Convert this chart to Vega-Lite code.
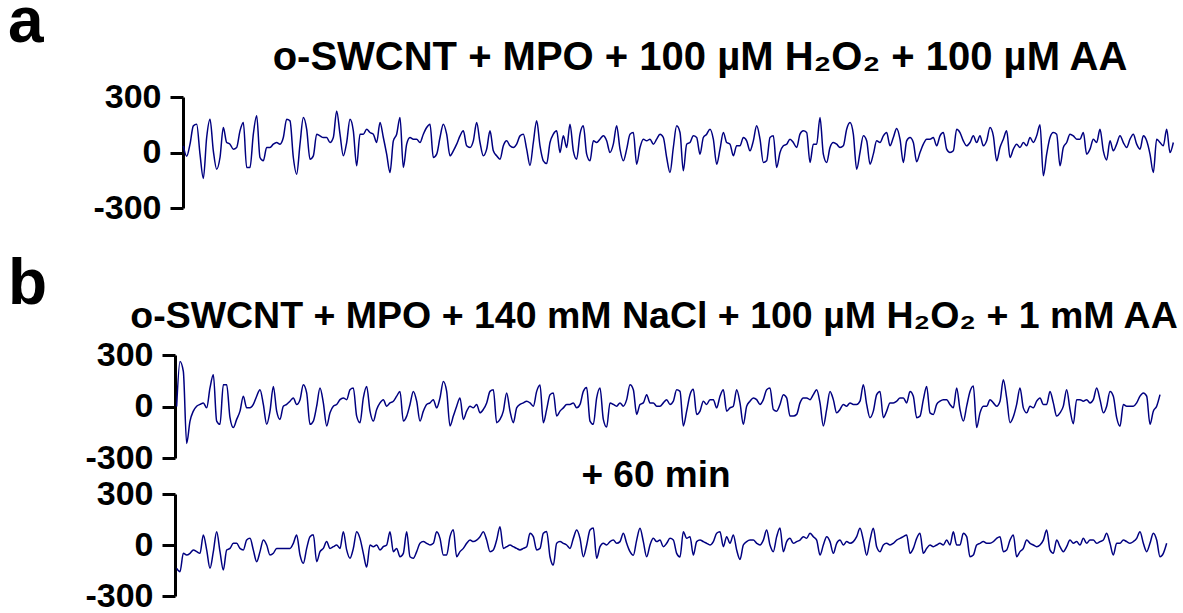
{
"$schema": "https://vega.github.io/schema/vega-lite/v6.json",
"padding": {"left": 8, "top": -9, "right": 0, "bottom": 0},
"bounds": "flush",
"spacing": 147,
"config": {
  "font": "Liberation Sans",
  "view": {"stroke": null},
  "axis": {"domainColor": "black", "domainWidth": 3, "tickColor": "black", "tickWidth": 3, "tickSize": 13, "labelFont": "Liberation Sans", "labelFontSize": 34, "labelFontWeight": "bold", "labelColor": "black", "labelPadding": 9, "grid": false, "labelFlush": false, "labelOverlap": false},
  "title": {"font": "Liberation Sans", "fontWeight": "bold", "color": "black"}
},
"datasets": {
"a": [
{"t":0,"v":36},{"t":1,"v":-20},{"t":2,"v":45},{"t":3,"v":144},{"t":4,"v":153},{"t":5,"v":-9},{"t":6,"v":-140},{"t":7,"v":81},{"t":8,"v":180},{"t":9,"v":9},
{"t":10,"v":-90},{"t":11,"v":-27},{"t":12,"v":135},{"t":13,"v":54},{"t":14,"v":45},{"t":15,"v":18},{"t":16,"v":27},{"t":17,"v":117},{"t":18,"v":162},{"t":19,"v":-81},
{"t":20,"v":-81},{"t":21,"v":99},{"t":22,"v":198},{"t":23,"v":-27},{"t":24,"v":-45},{"t":25,"v":27},{"t":26,"v":27},{"t":27,"v":45},{"t":28,"v":54},{"t":29,"v":45},
{"t":30,"v":81},{"t":31,"v":180},{"t":32,"v":171},{"t":33,"v":-27},{"t":34,"v":-117},{"t":35,"v":45},{"t":36,"v":189},{"t":37,"v":126},{"t":38,"v":-36},{"t":39,"v":-18},
{"t":40,"v":99},{"t":41,"v":90},{"t":42,"v":81},{"t":43,"v":81},{"t":44,"v":54},{"t":45,"v":81},{"t":46,"v":225},{"t":47,"v":99},{"t":48,"v":-18},{"t":49,"v":54},
{"t":50,"v":180},{"t":51,"v":117},{"t":52,"v":-72},{"t":53,"v":99},{"t":54,"v":99},{"t":55,"v":126},{"t":56,"v":108},{"t":57,"v":99},{"t":58,"v":54},{"t":59,"v":162},
{"t":60,"v":81},{"t":61,"v":-9},{"t":62,"v":-108},{"t":63,"v":63},{"t":64,"v":99},{"t":65,"v":189},{"t":66,"v":-81},{"t":67,"v":45},{"t":68,"v":81},{"t":69,"v":72},
{"t":70,"v":72},{"t":71,"v":54},{"t":72,"v":99},{"t":73,"v":135},{"t":74,"v":153},{"t":75,"v":-27},{"t":76,"v":-9},{"t":77,"v":81},{"t":78,"v":153},{"t":79,"v":99},
{"t":80,"v":-18},{"t":81,"v":9},{"t":82,"v":45},{"t":83,"v":90},{"t":84,"v":117},{"t":85,"v":36},{"t":86,"v":27},{"t":87,"v":63},{"t":88,"v":162},{"t":89,"v":54},
{"t":90,"v":-18},{"t":91,"v":18},{"t":92,"v":117},{"t":93,"v":9},{"t":94,"v":-18},{"t":95,"v":-36},{"t":96,"v":36},{"t":97,"v":63},{"t":98,"v":36},
{"t":99,"v":27},{"t":100,"v":45},{"t":101,"v":90},{"t":102,"v":99},{"t":103,"v":18},{"t":104,"v":-70},{"t":105,"v":54},{"t":106,"v":171},{"t":107,"v":36},{"t":108,"v":-45},
{"t":109,"v":-60},{"t":110,"v":54},{"t":111,"v":99},{"t":112,"v":117},{"t":113,"v":0},{"t":114,"v":90},{"t":115,"v":27},{"t":116,"v":153},{"t":117,"v":9},{"t":118,"v":-36},
{"t":119,"v":99},{"t":120,"v":144},{"t":121,"v":-9},{"t":122,"v":-45},{"t":123,"v":63},{"t":124,"v":54},{"t":125,"v":72},{"t":126,"v":90},{"t":127,"v":63},{"t":128,"v":0},
{"t":129,"v":45},{"t":130,"v":144},{"t":131,"v":18},{"t":132,"v":-45},{"t":133,"v":18},{"t":134,"v":99},{"t":135,"v":108},{"t":136,"v":-63},{"t":137,"v":27},{"t":138,"v":72},
{"t":139,"v":63},{"t":140,"v":72},{"t":141,"v":45},{"t":142,"v":72},{"t":143,"v":99},{"t":144,"v":81},{"t":145,"v":-27},{"t":146,"v":-108},{"t":147,"v":27},{"t":148,"v":144},
{"t":149,"v":108},{"t":150,"v":-99},{"t":151,"v":45},{"t":152,"v":54},{"t":153,"v":90},{"t":154,"v":81},{"t":155,"v":-9},{"t":156,"v":81},{"t":157,"v":99},{"t":158,"v":126},
{"t":159,"v":72},{"t":160,"v":-63},{"t":161,"v":18},{"t":162,"v":108},{"t":163,"v":54},{"t":164,"v":45},{"t":165,"v":-18},{"t":166,"v":36},{"t":167,"v":36},{"t":168,"v":81},
{"t":169,"v":63},{"t":170,"v":9},{"t":171,"v":63},{"t":172,"v":144},{"t":173,"v":72},{"t":174,"v":-54},{"t":175,"v":-45},{"t":176,"v":81},{"t":177,"v":90},{"t":178,"v":-81},
{"t":179,"v":0},{"t":180,"v":36},{"t":181,"v":45},{"t":182,"v":72},{"t":183,"v":54},{"t":184,"v":27},{"t":185,"v":99},{"t":186,"v":117},{"t":187,"v":108},{"t":188,"v":-54},
{"t":189,"v":45},{"t":190,"v":45},{"t":191,"v":189},{"t":192,"v":-9},{"t":193,"v":-54},{"t":194,"v":27},{"t":195,"v":54},{"t":196,"v":45},{"t":197,"v":27},
{"t":198,"v":36},{"t":199,"v":126},{"t":200,"v":162},{"t":201,"v":99},{"t":202,"v":-90},{"t":203,"v":0},{"t":204,"v":90},{"t":205,"v":63},{"t":206,"v":-63},{"t":207,"v":-9},
{"t":208,"v":63},{"t":209,"v":54},{"t":210,"v":90},{"t":211,"v":108},{"t":212,"v":36},{"t":213,"v":81},{"t":214,"v":130},{"t":215,"v":72},{"t":216,"v":-54},{"t":217,"v":63},
{"t":218,"v":81},{"t":219,"v":54},{"t":220,"v":-50},{"t":221,"v":0},{"t":222,"v":45},{"t":223,"v":72},{"t":224,"v":72},{"t":225,"v":81},{"t":226,"v":36},{"t":227,"v":90},
{"t":228,"v":108},{"t":229,"v":18},{"t":230,"v":0},{"t":231,"v":9},{"t":232,"v":126},{"t":233,"v":108},{"t":234,"v":63},{"t":235,"v":36},{"t":236,"v":54},{"t":237,"v":90},
{"t":238,"v":54},{"t":239,"v":90},{"t":240,"v":36},{"t":241,"v":63},{"t":242,"v":135},{"t":243,"v":90},{"t":244,"v":-45},{"t":245,"v":27},{"t":246,"v":72},{"t":247,"v":117},
{"t":248,"v":-27},{"t":249,"v":18},{"t":250,"v":45},{"t":251,"v":27},{"t":252,"v":54},{"t":253,"v":36},{"t":254,"v":81},{"t":255,"v":54},{"t":256,"v":90},{"t":257,"v":150},
{"t":258,"v":-126},{"t":259,"v":-9},{"t":260,"v":81},{"t":261,"v":108},{"t":262,"v":99},{"t":263,"v":-72},{"t":264,"v":27},{"t":265,"v":54},{"t":266,"v":99},{"t":267,"v":90},
{"t":268,"v":72},{"t":269,"v":72},{"t":270,"v":108},{"t":271,"v":-9},{"t":272,"v":18},{"t":273,"v":72},{"t":274,"v":54},{"t":275,"v":126},{"t":276,"v":9},{"t":277,"v":-40},
{"t":278,"v":63},{"t":279,"v":9},{"t":280,"v":45},{"t":281,"v":90},{"t":282,"v":54},{"t":283,"v":27},{"t":284,"v":72},{"t":285,"v":99},{"t":286,"v":45},{"t":287,"v":18},
{"t":288,"v":90},{"t":289,"v":63},{"t":290,"v":-9},{"t":291,"v":-108},{"t":292,"v":72},{"t":293,"v":54},{"t":294,"v":36},{"t":295,"v":126},{"t":296,"v":0},{"t":297,"v":54}
],
"b1": [
{"t":0,"v":0},{"t":1,"v":262},{"t":2,"v":204},{"t":3,"v":-215},{"t":4,"v":-85},{"t":5,"v":-27},{"t":6,"v":2},{"t":7,"v":12},{"t":8,"v":21},{"t":9,"v":-8},
{"t":10,"v":108},{"t":11,"v":185},{"t":12,"v":-85},{"t":13,"v":-104},{"t":14,"v":127},{"t":15,"v":127},{"t":16,"v":-65},{"t":17,"v":-123},{"t":18,"v":-75},{"t":19,"v":-27},
{"t":20,"v":60},{"t":21,"v":-8},{"t":22,"v":-8},{"t":23,"v":12},{"t":24,"v":60},{"t":25,"v":98},{"t":26,"v":12},{"t":27,"v":-104},{"t":28,"v":-27},{"t":29,"v":117},
{"t":30,"v":-27},{"t":31,"v":-75},{"t":32,"v":2},{"t":33,"v":12},{"t":34,"v":31},{"t":35,"v":50},{"t":36,"v":12},{"t":37,"v":40},{"t":38,"v":127},{"t":39,"v":79},
{"t":40,"v":-104},{"t":41,"v":-85},{"t":42,"v":2},{"t":43,"v":108},{"t":44,"v":21},{"t":45,"v":-113},{"t":46,"v":-37},{"t":47,"v":2},{"t":48,"v":12},{"t":49,"v":40},
{"t":50,"v":50},{"t":51,"v":40},{"t":52,"v":98},{"t":53,"v":108},{"t":54,"v":-56},{"t":55,"v":-94},{"t":56,"v":50},{"t":57,"v":117},{"t":58,"v":-27},{"t":59,"v":-85},
{"t":60,"v":-17},{"t":61,"v":21},{"t":62,"v":40},{"t":63,"v":2},{"t":64,"v":21},{"t":65,"v":31},{"t":66,"v":60},{"t":67,"v":88},{"t":68,"v":-85},{"t":69,"v":-56},
{"t":70,"v":12},{"t":71,"v":88},{"t":72,"v":31},{"t":73,"v":-85},{"t":74,"v":-27},{"t":75,"v":12},{"t":76,"v":21},{"t":77,"v":40},{"t":78,"v":-8},{"t":79,"v":50},
{"t":80,"v":146},{"t":81,"v":88},{"t":82,"v":-113},{"t":83,"v":-56},{"t":84,"v":2},{"t":85,"v":50},{"t":86,"v":-75},{"t":87,"v":-27},{"t":88,"v":2},{"t":89,"v":-8},
{"t":90,"v":12},{"t":91,"v":-37},{"t":92,"v":-17},{"t":93,"v":21},{"t":94,"v":88},{"t":95,"v":98},{"t":96,"v":-94},{"t":97,"v":-75},{"t":98,"v":-27},{"t":99,"v":79},
{"t":100,"v":-27},{"t":101,"v":-94},{"t":102,"v":-8},{"t":103,"v":12},{"t":104,"v":21},{"t":105,"v":31},{"t":106,"v":21},{"t":107,"v":2},{"t":108,"v":88},{"t":109,"v":125},
{"t":110,"v":-94},{"t":111,"v":-17},{"t":112,"v":69},{"t":113,"v":79},{"t":114,"v":-56},{"t":115,"v":-27},{"t":116,"v":-8},{"t":117,"v":12},{"t":118,"v":12},{"t":119,"v":21},
{"t":120,"v":-8},{"t":121,"v":12},{"t":122,"v":88},{"t":123,"v":110},{"t":124,"v":-85},{"t":125,"v":-104},{"t":126,"v":50},{"t":127,"v":108},{"t":128,"v":-75},{"t":129,"v":-120},
{"t":130,"v":21},{"t":131,"v":12},{"t":132,"v":2},{"t":133,"v":21},{"t":134,"v":2},{"t":135,"v":40},{"t":136,"v":127},{"t":137,"v":98},{"t":138,"v":-46},{"t":139,"v":12},
{"t":140,"v":21},{"t":141,"v":69},{"t":142,"v":21},{"t":143,"v":21},{"t":144,"v":2},{"t":145,"v":2},{"t":146,"v":21},{"t":147,"v":40},{"t":148,"v":12},{"t":149,"v":31},
{"t":150,"v":98},{"t":151,"v":88},{"t":152,"v":-113},{"t":153,"v":-27},{"t":154,"v":69},{"t":155,"v":100},{"t":156,"v":-46},{"t":157,"v":-27},{"t":158,"v":31},{"t":159,"v":12},
{"t":160,"v":40},{"t":161,"v":40},{"t":162,"v":-8},{"t":163,"v":60},{"t":164,"v":98},{"t":165,"v":-27},{"t":166,"v":-8},{"t":167,"v":2},{"t":168,"v":98},{"t":169,"v":21},
{"t":170,"v":-104},{"t":171,"v":2},{"t":172,"v":31},{"t":173,"v":50},{"t":174,"v":40},{"t":175,"v":12},{"t":176,"v":40},{"t":177,"v":98},{"t":178,"v":108},{"t":179,"v":-17},
{"t":180,"v":-27},{"t":181,"v":12},{"t":182,"v":69},{"t":183,"v":50},{"t":184,"v":-56},{"t":185,"v":-56},{"t":186,"v":-46},{"t":187,"v":21},{"t":188,"v":50},{"t":189,"v":50},
{"t":190,"v":40},{"t":191,"v":69},{"t":192,"v":98},{"t":193,"v":21},{"t":194,"v":-113},{"t":195,"v":-17},{"t":196,"v":88},{"t":197,"v":40},{"t":198,"v":-37},{"t":199,"v":-17},
{"t":200,"v":12},{"t":201,"v":2},{"t":202,"v":21},{"t":203,"v":12},{"t":204,"v":12},{"t":205,"v":31},{"t":206,"v":127},{"t":207,"v":12},{"t":208,"v":-65},{"t":209,"v":-27},
{"t":210,"v":69},{"t":211,"v":88},{"t":212,"v":-65},{"t":213,"v":-27},{"t":214,"v":21},{"t":215,"v":21},{"t":216,"v":31},{"t":217,"v":50},{"t":218,"v":50},{"t":219,"v":21},
{"t":220,"v":88},{"t":221,"v":60},{"t":222,"v":-65},{"t":223,"v":-56},{"t":224,"v":40},{"t":225,"v":117},{"t":226,"v":-37},{"t":227,"v":-46},{"t":228,"v":12},{"t":229,"v":31},
{"t":230,"v":40},{"t":231,"v":40},{"t":232,"v":12},{"t":233,"v":-8},{"t":234,"v":108},{"t":235,"v":-17},{"t":236,"v":-85},{"t":237,"v":2},{"t":238,"v":88},{"t":239,"v":120},
{"t":240,"v":-123},{"t":241,"v":-37},{"t":242,"v":2},{"t":243,"v":2},{"t":244,"v":40},{"t":245,"v":21},{"t":246,"v":2},{"t":247,"v":31},{"t":248,"v":156},{"t":249,"v":50},
{"t":250,"v":-94},{"t":251,"v":-60},{"t":252,"v":12},{"t":253,"v":108},{"t":254,"v":-8},{"t":255,"v":-37},{"t":256,"v":2},{"t":257,"v":-8},{"t":258,"v":31},{"t":259,"v":50},
{"t":260,"v":12},{"t":261,"v":12},{"t":262,"v":88},{"t":263,"v":21},{"t":264,"v":-56},{"t":265,"v":-37},{"t":266,"v":2},{"t":267,"v":98},{"t":268,"v":-17},{"t":269,"v":-100},
{"t":270,"v":40},{"t":271,"v":40},{"t":272,"v":31},{"t":273,"v":40},{"t":274,"v":21},{"t":275,"v":40},{"t":276,"v":108},{"t":277,"v":40},{"t":278,"v":-37},{"t":279,"v":2},
{"t":280,"v":88},{"t":281,"v":60},{"t":282,"v":-65},{"t":283,"v":-115},{"t":284,"v":12},{"t":285,"v":2},{"t":286,"v":2},{"t":287,"v":2},{"t":288,"v":21},{"t":289,"v":60},
{"t":290,"v":79},{"t":291,"v":60},{"t":292,"v":-104},{"t":293,"v":-27},{"t":294,"v":2},{"t":295,"v":69}
],
"b2": [
{"t":0,"v":-137},{"t":1,"v":-157},{"t":2,"v":-49},{"t":3,"v":-59},{"t":4,"v":-49},{"t":5,"v":-29},{"t":6,"v":-39},{"t":7,"v":-49},{"t":8,"v":59},{"t":9,"v":-29},
{"t":10,"v":-137},{"t":11,"v":-39},{"t":12,"v":78},{"t":13,"v":-39},{"t":14,"v":-147},{"t":15,"v":-29},{"t":16,"v":-20},{"t":17,"v":10},{"t":18,"v":10},{"t":19,"v":-20},
{"t":20,"v":-29},{"t":21,"v":29},{"t":22,"v":39},{"t":23,"v":-29},{"t":24,"v":-98},{"t":25,"v":-39},{"t":26,"v":29},{"t":27,"v":0},{"t":28,"v":-59},{"t":29,"v":-49},
{"t":30,"v":-20},{"t":31,"v":-20},{"t":32,"v":-20},{"t":33,"v":-20},{"t":34,"v":-20},{"t":35,"v":10},{"t":36,"v":59},{"t":37,"v":-59},{"t":38,"v":-108},{"t":39,"v":-20},
{"t":40,"v":49},{"t":41,"v":60},{"t":42,"v":-98},{"t":43,"v":-39},{"t":44,"v":-20},{"t":45,"v":20},{"t":46,"v":-20},{"t":47,"v":-10},{"t":48,"v":0},{"t":49,"v":-20},
{"t":50,"v":78},{"t":51,"v":-29},{"t":52,"v":-78},{"t":53,"v":-20},{"t":54,"v":78},{"t":55,"v":39},{"t":56,"v":-49},{"t":57,"v":-130},{"t":58,"v":0},{"t":59,"v":-10},
{"t":60,"v":0},{"t":61,"v":-29},{"t":62,"v":-10},{"t":63,"v":0},{"t":64,"v":78},{"t":65,"v":-39},{"t":66,"v":-20},{"t":67,"v":-69},{"t":68,"v":-49},{"t":69,"v":78},
{"t":70,"v":-69},{"t":71,"v":-78},{"t":72,"v":-39},{"t":73,"v":10},{"t":74,"v":20},{"t":75,"v":10},{"t":76,"v":0},{"t":77,"v":10},{"t":78,"v":78},{"t":79,"v":39},
{"t":80,"v":-59},{"t":81,"v":-59},{"t":82,"v":49},{"t":83,"v":90},{"t":84,"v":-69},{"t":85,"v":-39},{"t":86,"v":-20},{"t":87,"v":10},{"t":88,"v":29},{"t":89,"v":20},
{"t":90,"v":29},{"t":91,"v":49},{"t":92,"v":78},{"t":93,"v":29},{"t":94,"v":-39},{"t":95,"v":-29},{"t":96,"v":29},{"t":97,"v":108},{"t":98,"v":-20},{"t":99,"v":-10},
{"t":100,"v":0},{"t":101,"v":-10},{"t":102,"v":-20},{"t":103,"v":-29},{"t":104,"v":-20},{"t":105,"v":-10},{"t":106,"v":69},{"t":107,"v":49},{"t":108,"v":-29},{"t":109,"v":-20},
{"t":110,"v":69},{"t":111,"v":80},{"t":112,"v":-69},{"t":113,"v":-118},{"t":114,"v":10},{"t":115,"v":20},{"t":116,"v":10},{"t":117,"v":0},{"t":118,"v":-20},{"t":119,"v":39},
{"t":120,"v":88},{"t":121,"v":39},{"t":122,"v":-69},{"t":123,"v":0},{"t":124,"v":88},{"t":125,"v":100},{"t":126,"v":-78},{"t":127,"v":-10},{"t":128,"v":10},{"t":129,"v":0},
{"t":130,"v":20},{"t":131,"v":29},{"t":132,"v":10},{"t":133,"v":20},{"t":134,"v":69},{"t":135,"v":10},{"t":136,"v":-39},{"t":137,"v":-60},{"t":138,"v":29},{"t":139,"v":98},
{"t":140,"v":20},{"t":141,"v":-69},{"t":142,"v":0},{"t":143,"v":39},{"t":144,"v":20},{"t":145,"v":29},{"t":146,"v":-10},{"t":147,"v":10},{"t":148,"v":39},{"t":149,"v":29},
{"t":150,"v":-49},{"t":151,"v":-70},{"t":152,"v":78},{"t":153,"v":39},{"t":154,"v":49},{"t":155,"v":-59},{"t":156,"v":20},{"t":157,"v":29},{"t":158,"v":20},{"t":159,"v":10},
{"t":160,"v":0},{"t":161,"v":20},{"t":162,"v":69},{"t":163,"v":78},{"t":164,"v":-10},{"t":165,"v":49},{"t":166,"v":10},{"t":167,"v":59},{"t":168,"v":-29},{"t":169,"v":-85},
{"t":170,"v":0},{"t":171,"v":20},{"t":172,"v":29},{"t":173,"v":29},{"t":174,"v":10},{"t":175,"v":0},{"t":176,"v":29},{"t":177,"v":88},{"t":178,"v":0},{"t":179,"v":-39},
{"t":180,"v":49},{"t":181,"v":100},{"t":182,"v":-39},{"t":183,"v":20},{"t":184,"v":39},{"t":185,"v":10},{"t":186,"v":20},{"t":187,"v":29},{"t":188,"v":49},{"t":189,"v":39},
{"t":190,"v":69},{"t":191,"v":49},{"t":192,"v":29},{"t":193,"v":-59},{"t":194,"v":0},{"t":195,"v":49},{"t":196,"v":20},{"t":197,"v":-49},{"t":198,"v":10},{"t":199,"v":29},
{"t":200,"v":0},{"t":201,"v":20},{"t":202,"v":10},{"t":203,"v":20},{"t":204,"v":49},{"t":205,"v":98},{"t":206,"v":29},{"t":207,"v":-60},{"t":208,"v":29},{"t":209,"v":98},
{"t":210,"v":-10},{"t":211,"v":-39},{"t":212,"v":0},{"t":213,"v":10},{"t":214,"v":0},{"t":215,"v":10},{"t":216,"v":29},{"t":217,"v":39},{"t":218,"v":49},{"t":219,"v":59},
{"t":220,"v":-49},{"t":221,"v":-20},{"t":222,"v":39},{"t":223,"v":69},{"t":224,"v":-49},{"t":225,"v":-20},{"t":226,"v":0},{"t":227,"v":-10},{"t":228,"v":0},{"t":229,"v":10},
{"t":230,"v":0},{"t":231,"v":29},{"t":232,"v":0},{"t":233,"v":78},{"t":234,"v":0},{"t":235,"v":0},{"t":236,"v":69},{"t":237,"v":49},{"t":238,"v":-69},{"t":239,"v":-59},
{"t":240,"v":0},{"t":241,"v":10},{"t":242,"v":20},{"t":243,"v":10},{"t":244,"v":10},{"t":245,"v":20},{"t":246,"v":39},{"t":247,"v":49},{"t":248,"v":-39},{"t":249,"v":-29},
{"t":250,"v":29},{"t":251,"v":59},{"t":252,"v":-69},{"t":253,"v":-39},{"t":254,"v":-20},{"t":255,"v":29},{"t":256,"v":10},{"t":257,"v":0},{"t":258,"v":-10},{"t":259,"v":0},
{"t":260,"v":29},{"t":261,"v":88},{"t":262,"v":-29},{"t":263,"v":-49},{"t":264,"v":29},{"t":265,"v":-10},{"t":266,"v":-39},{"t":267,"v":-10},{"t":268,"v":29},{"t":269,"v":10},
{"t":270,"v":20},{"t":271,"v":0},{"t":272,"v":39},{"t":273,"v":10},{"t":274,"v":29},{"t":275,"v":29},{"t":276,"v":10},{"t":277,"v":20},{"t":278,"v":29},{"t":279,"v":69},
{"t":280,"v":10},{"t":281,"v":-59},{"t":282,"v":10},{"t":283,"v":10},{"t":284,"v":29},{"t":285,"v":20},{"t":286,"v":10},{"t":287,"v":20},{"t":288,"v":39},{"t":289,"v":78},
{"t":290,"v":10},{"t":291,"v":-39},{"t":292,"v":10},{"t":293,"v":69},{"t":294,"v":29},{"t":295,"v":-69},{"t":296,"v":-49},{"t":297,"v":10}
]
},
"title": {"text": "a", "anchor": "start", "frame": "group", "fontSize": 64, "dx": -167, "offset": -17},
"vconcat": [
  {
    "width": 1000, "height": 111,
    "title": {"text": "o-SWCNT + MPO + 100 µM H₂O₂ + 100 µM AA", "fontSize": 40, "anchor": "middle", "frame": "group", "dx": 25, "offset": 2},
    "data": {"name": "a"},
    "mark": {"type": "line", "color": "#000080", "strokeWidth": 1.5, "interpolate": "monotone"},
    "encoding": {
      "x": {"field": "t", "type": "quantitative", "scale": {"domain": [-2.5, 297.5], "nice": false, "zero": false}, "axis": null},
      "y": {"field": "v", "type": "quantitative", "scale": {"domain": [-300, 300], "nice": false, "zero": false}, "axis": {"title": null, "values": [-300, 0, 300], "offset": -8, "labelExpr": "'' + datum.value"}}
    }
  },
  {
    "title": {"text": "b", "anchor": "start", "frame": "group", "fontSize": 64, "dx": -167, "offset": -19},
    "bounds": "flush",
    "spacing": 36,
    "vconcat": [
      {
        "width": 1000, "height": 103,
        "title": {"text": "o-SWCNT + MPO + 140 mM NaCl + 100 µM H₂O₂ + 1 mM AA", "fontSize": 37.5, "anchor": "middle", "frame": "group", "dx": -21, "offset": 2.5},
        "data": {"name": "b1"},
        "mark": {"type": "line", "color": "#000080", "strokeWidth": 1.5, "interpolate": "monotone"},
        "encoding": {
          "x": {"field": "t", "type": "quantitative", "scale": {"domain": [-0.5, 299.5], "nice": false, "zero": false}, "axis": null},
          "y": {"field": "v", "type": "quantitative", "scale": {"domain": [-300, 300], "nice": false, "zero": false}, "axis": {"title": null, "values": [-300, 0, 300], "labelExpr": "'' + datum.value"}}
        }
      },
      {
        "width": 1000, "height": 102,
        "title": {"text": "+ 60 min", "fontSize": 37, "anchor": "middle", "frame": "group", "dx": -19, "offset": -18},
        "data": {"name": "b2"},
        "mark": {"type": "line", "color": "#000080", "strokeWidth": 1.5, "interpolate": "monotone"},
        "encoding": {
          "x": {"field": "t", "type": "quantitative", "scale": {"domain": [-0.5, 299.5], "nice": false, "zero": false}, "axis": null},
          "y": {"field": "v", "type": "quantitative", "scale": {"domain": [-300, 300], "nice": false, "zero": false}, "axis": {"title": null, "values": [-300, 0, 300], "labelExpr": "'' + datum.value"}}
        }
      }
    ]
  }
]
}
